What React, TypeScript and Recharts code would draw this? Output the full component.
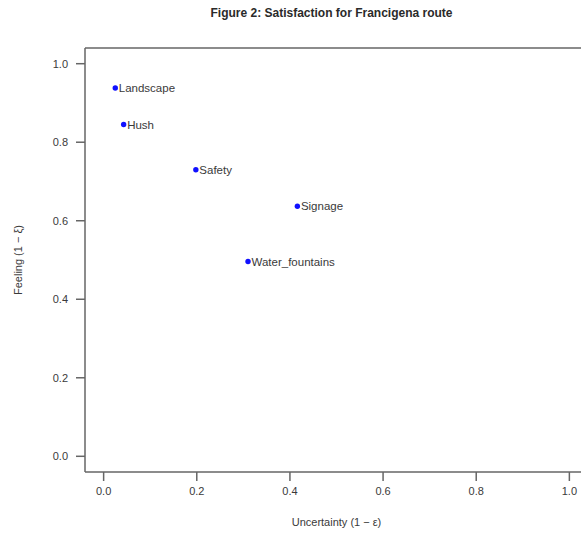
import React from 'react';
import {
  ScatterChart,
  Scatter,
  XAxis,
  YAxis,
  ReferenceLine,
  Label,
} from 'recharts';

const attributes = ['Landscape', 'Hush', 'Safety', 'Signage', 'Water_fountains'];
const uncertainty = [0.025, 0.043, 0.198, 0.416, 0.31];
const feeling = [0.938, 0.845, 0.73, 0.637, 0.496];
const axisTicks = [0, 0.2, 0.4, 0.6, 0.8, 1.0];

const data = attributes.map((name, i) => ({
  name,
  x: uncertainty[i],
  y: feeling[i],
}));

const FONT = '"Liberation Sans", Arial, sans-serif';
const TEXT = '#3a3a3a';
const LINE = '#666666';

const LabeledDot = (props: any) => {
  const { cx, cy, payload } = props;
  return (
    <g>
      <circle cx={cx} cy={cy} r={2.7} fill="#1010ff" />
      <text
        x={cx + 3.5}
        y={cy}
        dy="0.35em"
        fontSize={11.5}
        fontFamily={FONT}
        fill={TEXT}
      >
        {payload.name}
      </text>
    </g>
  );
};

const fmt = (v: number) => v.toFixed(1);

export default function App() {
  return (
    <div
      style={{
        position: 'fixed',
        left: 0,
        top: 0,
        width: 581,
        height: 543,
        overflow: 'hidden',
        background: '#fff',
      }}
    >
      <div
        style={{
          position: 'absolute',
          top: 6,
          left: 80,
          width: 503,
          textAlign: 'center',
          fontFamily: FONT,
          fontWeight: 'bold',
          fontSize: 12,
          color: '#2a2a2a',
        }}
      >
        Figure 2: Satisfaction for Francigena route
      </div>
      <ScatterChart
        width={581}
        height={543}
        margin={{ top: 48, right: -7, bottom: 0, left: 0 }}
        style={{ overflow: 'hidden' }}
      >
        <XAxis
          type="number"
          dataKey="x"
          domain={[-0.04, 1.04]}
          ticks={axisTicks}
          tickFormatter={fmt}
          allowDataOverflow
          height={71}
          tickSize={9}
          tickMargin={6}
          axisLine={{ stroke: LINE, strokeWidth: 1.5 }}
          tickLine={{ stroke: LINE, strokeWidth: 1.5 }}
          tick={{ fill: TEXT, fontSize: 11, fontFamily: FONT }}
        >
          <Label
            value="Uncertainty (1 − ε)"
            position="insideBottom"
            offset={17}
            fill={TEXT}
            fontSize={11}
            fontFamily={FONT}
          />
        </XAxis>
        <YAxis
          type="number"
          dataKey="y"
          domain={[-0.04, 1.04]}
          ticks={axisTicks}
          tickFormatter={fmt}
          allowDataOverflow
          width={85}
          tickSize={9}
          tickMargin={8}
          axisLine={{ stroke: LINE, strokeWidth: 1.5 }}
          tickLine={{ stroke: LINE, strokeWidth: 1.5 }}
          tick={{ fill: TEXT, fontSize: 11, fontFamily: FONT }}
        >
          <Label
            value="Feeling (1 − ξ)"
            angle={-90}
            position="insideLeft"
            offset={18}
            style={{ textAnchor: 'middle' }}
            fill={TEXT}
            fontSize={11}
            fontFamily={FONT}
          />
        </YAxis>
        <ReferenceLine
          y={1.04}
          stroke={LINE}
          strokeWidth={1.5}
          ifOverflow="visible"
        />
        <Scatter
          data={data}
          shape={<LabeledDot />}
          isAnimationActive={false}
        />
      </ScatterChart>
    </div>
  );
}
